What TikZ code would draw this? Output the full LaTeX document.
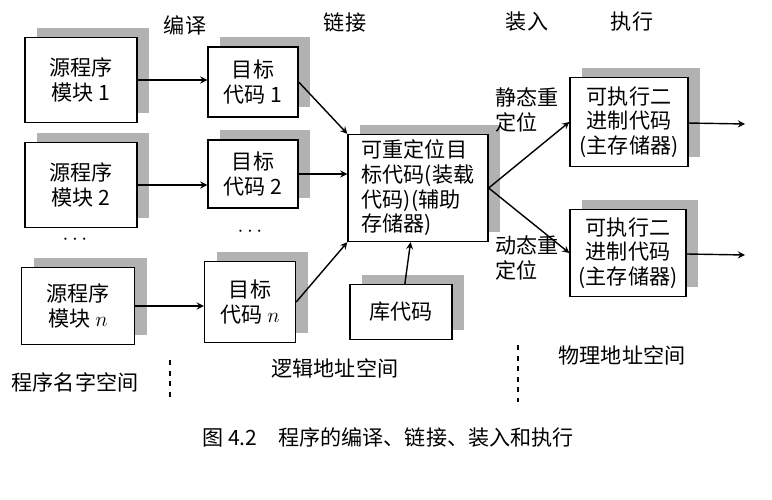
\documentclass[tikz,border=0pt]{standalone}
\usepackage{fontspec}
\setmainfont{Noto Sans CJK SC}
\usetikzlibrary{positioning}

\tikzset{
  blk/.style={draw, thick, fill=white, align=center, font=\large,
    inner sep=2pt},
  shade/.style={fill=gray!60},
  arr/.style={->, >=stealth, thick},
}

\begin{document}
\begin{tikzpicture}[x=0.02cm, y=-0.02cm]
    \useasboundingbox (0,0) rectangle (772,500);

    % shadows
    \foreach \a/\b/\c/\d in {25/38/137/123, 25/143/137/228, 22/268/135/345,
        208/47/298/117, 208/140/298/208, 205/262/296/343, 348/135/488/242,
        350/285/452/340, 570/78/688/167, 570/210/686/297}
        \fill[shade] (\a+12,\b-10) rectangle (\c+12,\d-10);

    % Boxes
    \node[blk, minimum width=2.24cm, minimum height=1.7cm] (m1) at (81,80) {源程序\\模块 1};
    \node[blk, minimum width=2.24cm, minimum height=1.7cm] (m2) at (81,185) {源程序\\模块 2};
    \node[blk, minimum width=2.26cm, minimum height=1.54cm] (mn) at (78,306) {源程序\\模块 $n$};
    \node[blk, minimum width=1.8cm, minimum height=1.4cm] (o1) at (253,82) {目标\\代码 1};
    \node[blk, minimum width=1.8cm, minimum height=1.36cm] (o2) at (253,174) {目标\\代码 2};
    \node[blk, minimum width=1.82cm, minimum height=1.62cm] (on) at (250,302) {目标\\代码 $n$};
    \node[blk, minimum width=2.8cm, minimum height=2.14cm, align=left] (rel) at (418,188) {可重定位目\\标代码(装载\\代码)(辅助\\存储器)};
    \node[blk, minimum width=2.04cm, minimum height=1.1cm] (lib) at (401,312) {库代码};
    \node[blk, minimum width=2.36cm, minimum height=1.78cm] (e1) at (629,122) {可执行二\\进制代码\\(主存储器)};
    \node[blk, minimum width=2.32cm, minimum height=1.74cm] (e2) at (628,253) {可执行二\\进制代码\\(主存储器)};

    \coordinate (x1) at (745,124);
    \coordinate (x2) at (745,255);

    % Arrows
    \draw[arr] (m1) -- (o1.west |- m1);
    \draw[arr] (m2) -- (o2.west |- m2);
    \draw[arr] (mn) -- (on.west |- mn);
    \draw[arr] (o1.east) -- (rel.north west);
    \draw[arr] (o2.east) -- (rel.west |- o2.east);
    \draw[arr] (on.east) -- (rel.south west);
    \draw[arr] (lib) -- (rel);
    \draw[arr] (rel.east) -- (e1.west);
    \draw[arr] (rel.east) -- (e2.west);
    \draw[arr] (e1) -- (x1);
    \draw[arr] (e2) -- (x2);

    % Labels
    \node[font=\large] (lc) at (185,25) {编译};
    \node[font=\large] (ll) at (345,22) {链接};
    \node[font=\large] (lz) at (527,22) {装入};
    \node[font=\large] (lx) at (632,22) {执行};
    \node[font=\large, align=left] (js) at (527,110) {静态重\\定位};
    \node[font=\large, align=left] (dt) at (527,258) {动态重\\定位};
    \node[font=\large] (d1) at (75,240) {$\cdots$};
    \node[font=\large] (d2) at (250,232) {$\cdots$};
    \node[font=\large] (s1) at (75,382) {程序名字空间};
    \node[font=\large] (s2) at (335,368) {逻辑地址空间};
    \node[font=\large] (s3) at (622,355) {物理地址空间};
    \draw[dashed, thick] (170,360) -- (170,402);
    \draw[dashed, thick] (518,345) -- (518,402);
    \node[font=\large] (cap) at (388,437) {图 4.2\quad 程序的编译、链接、装入和执行};
\end{tikzpicture}
\end{document}
